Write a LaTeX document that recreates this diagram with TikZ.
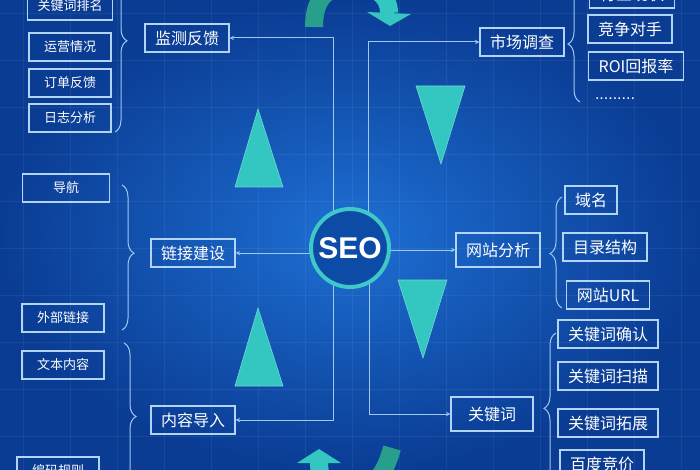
\documentclass[tikz,border=0pt]{standalone}
\usepackage{fontspec}
\setmainfont{Noto Sans CJK SC}
\newfontfamily\seofont{Liberation Sans}
\usetikzlibrary{decorations.pathreplacing}
\definecolor{bgin}{RGB}{30,112,212}
\definecolor{bgout}{RGB}{10,60,148}
\definecolor{linec}{RGB}{160,200,240}
\definecolor{boxc}{RGB}{178,212,246}
\definecolor{tri}{RGB}{52,198,192}
\definecolor{tealdk}{RGB}{40,158,140}
\definecolor{ringc}{RGB}{62,200,200}
\definecolor{seofill}{RGB}{12,76,166}

\begin{document}
\begin{tikzpicture}[x=1pt, y=-1pt,
    mainbox/.style={draw=boxc, line width=1.2pt, text=white, minimum width=82pt,
        minimum height=28pt, inner xsep=10pt, inner ysep=2pt, font=\fontsize{16}{18}\selectfont},
    itembox/.style={mainbox, minimum width=0pt},
    subbox/.style={mainbox, font=\fontsize{13}{15}\selectfont},
    link/.style={draw=linec, line width=1pt, ->, >=stealth},
    brc/.style={draw=linec, line width=1pt, decorate, decoration={brace, amplitude=12pt, aspect=#1}},
    tritip/.style={fill=tri, draw=tri!70!white, line width=0.6pt}]
    \clip (0,0) rectangle (700,470);
    \shade[inner color=bgin, outer color=bgout] (0,0) rectangle (700,470);
    \foreach \gx in {23,70,...,700} \draw[white, opacity=0.06] (\gx,0) -- (\gx,470);
    \foreach \gy in {13,60,...,470} \draw[white, opacity=0.06] (0,\gy) -- (700,\gy);

    % triangles
    \draw[tritip] (258,109) -- (283,187) -- (235,187) -- cycle;
    \draw[tritip] (258,308) -- (283,386) -- (235,386) -- cycle;
    \draw[tritip] (416,86) -- (465,86) -- (441,164) -- cycle;
    \draw[tritip] (398,280) -- (447,280) -- (423,358) -- cycle;

    % curved arrows
    \draw[line width=18pt, tealdk] (314,27) .. controls (314,-5) and (330,-14) .. (352,-14);
    \draw[line width=18pt, tri] (352,-14) .. controls (375,-14) and (389,-5) .. (389,13);
    \fill[tri] (367,12) -- (411,14) -- (390,26) -- cycle;
    \draw[line width=18pt, tealdk] (392,448) .. controls (384,478) and (370,492) .. (350,492);
    \draw[line width=18pt, tri] (350,492) .. controls (328,492) and (319,482) .. (319,462);
    \fill[tri] (297,463) -- (341,463) -- (319,449) -- cycle;

    % main nodes
    \node[mainbox] (jc) at (187,38) {监测反馈};
    \node[mainbox] (sc) at (522,42) {市场调查};
    \node[mainbox] (lj) at (193,253) {链接建设};
    \node[mainbox, minimum height=34pt] (wz) at (498,250) {网站分析};
    \node[mainbox] (nr) at (193,420) {内容导入};
    \node[mainbox, minimum height=34pt] (gj) at (492,414) {关键词};

    \coordinate (o) at (350,248);
    \draw[link] ([xshift=-17pt]o) |- (jc.east);
    \draw[link] ([xshift=18pt]o) |- (sc.west);
    \draw[link] (lj.east -| o) -- (lj.east);
    \draw[link] (wz.west -| o) -- (wz.west);
    \draw[link] ([xshift=-17pt]o) |- (nr.east);
    \draw[link] ([xshift=19pt]o) |- (gj.west);
    \node[circle, draw=ringc, line width=4pt, fill=seofill, minimum size=78pt, text=white,
        font=\seofont\bfseries\fontsize{30}{32}\selectfont] (seo) at (o) {SEO};

    % left items
    \node[subbox] (pm) at (70,6) {关键词排名};
    \node[subbox] (yy) at (70,47) {运营情况};
    \node[subbox] (dd) at (70,83) {订单反馈};
    \node[subbox] (rz) at (70,118) {日志分析};
    \node[subbox, minimum width=87pt] (dh) at (66,188) {导航};
    \node[subbox] (wb) at (63,318) {外部链接};
    \node[subbox] (wn) at (63,365) {文本内容};
    \node[subbox] (bm) at (58,471) {编码规则};
    \draw[brc=0.47] (115,-40) -- (115,132);
    \draw[brc=0.47] (122,185) -- (122,330);
    \draw[brc=0.5] (124,343) -- (124,490);

    % right items
    \node[itembox, minimum width=85pt] (hy) at (632,-6) {行业现状};
    \node[itembox] (jz) at (630,29) {竞争对手};
    \node[itembox] (roi) at (636,66) {ROI回报率};
    \node[text=white, font=\seofont\fontsize{16}{18}\selectfont] (dots) at (615,99) {.........};
    \node[itembox] (ym) at (591,200) {域名};
    \node[itembox] (ml) at (605,247) {目录结构};
    \node[itembox] (url) at (608,295) {网站URL};
    \node[itembox] (qr) at (608,334) {关键词确认};
    \node[itembox] (sm) at (608,376) {关键词扫描};
    \node[itembox] (tz) at (608,423) {关键词拓展};
    \node[itembox] (bd) at (602,464) {百度竞价};
    \draw[brc=0.475] (580,102) -- (580,-20);
    \draw[brc=0.49] (562,308) -- (562,197);
    \draw[brc=0.52] (556,490) -- (556,333);
\end{tikzpicture}
\end{document}
